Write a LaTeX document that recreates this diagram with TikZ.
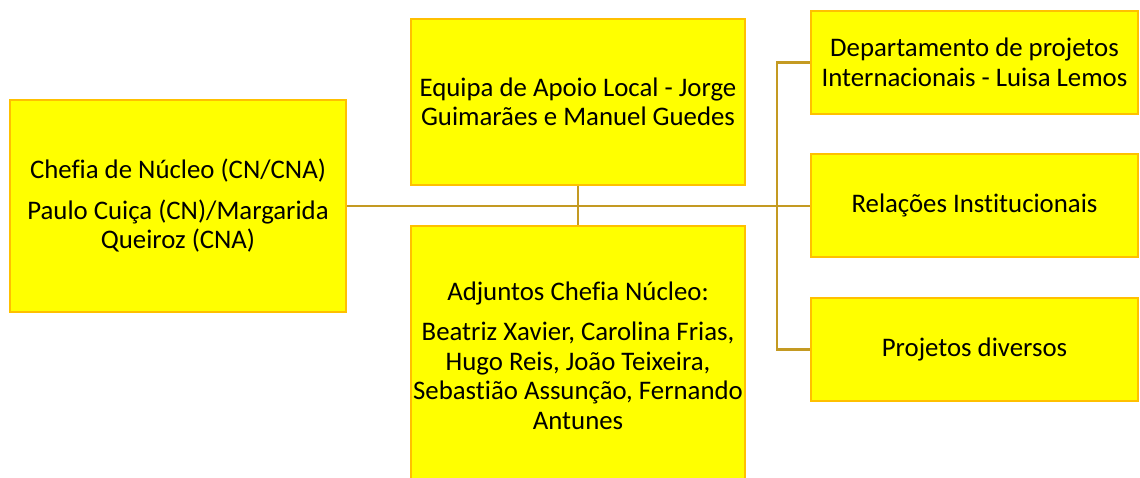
\documentclass[tikz,border=0pt]{standalone}
\usepackage{fontspec}
\setmainfont{Carlito}[RawFeature={-liga}]
\definecolor{boxfill}{HTML}{FFFF00}
\definecolor{boxline}{HTML}{FFC000}
\definecolor{connline}{HTML}{C49A22}
\tikzset{
  orgbox/.style={draw=boxline, fill=boxfill, line width=2pt, inner sep=0pt,
    align=center, font=\fontsize{26.8}{29.5}\selectfont, text=black},
  conn/.style={draw=connline, line width=2.4pt}
}
\begin{document}
\begin{tikzpicture}[x=1pt,y=-1pt]
\useasboundingbox (0,0) rectangle (1140,477);
\clip (0,0) rectangle (1140,477);
\node[orgbox, minimum width=336pt, minimum height=212pt] (chefia) at (178,206)
  {Chefia de Núcleo (CN/CNA)\\[11pt]Paulo Cuiça (CN)/Margarida\\Queiroz (CNA)};
\node[orgbox, minimum width=334pt, minimum height=166pt] (apoio) at (578,102)
  {Equipa de Apoio Local - Jorge\\Guimarães e Manuel Guedes};
\node[orgbox, minimum width=334pt, minimum height=259pt] (adj) at (578,355.5)
  {Adjuntos Chefia Núcleo:\\[11pt]Beatriz Xavier, Carolina Frias,\\Hugo Reis, João Teixeira,\\Sebastião Assunção, Fernando\\Antunes};
\node[orgbox, minimum width=327pt, minimum height=103pt] (dep) at (974.5,62.5)
  {Departamento de projetos\\Internacionais - Luisa Lemos};
\node[orgbox, minimum width=327pt, minimum height=103pt] (rel) at (974.5,205.5)
  {Relações Institucionais};
\node[orgbox, minimum width=327pt, minimum height=103pt] (proj) at (974.5,349.5)
  {Projetos diversos};
\draw[conn] (chefia.east) -- (chefia.east -| rel.west);
\draw[conn] (dep.west) -- ++(-33,0) |- (proj.west);
\draw[conn] (apoio.south) -- (adj.north);
\end{tikzpicture}
\end{document}
